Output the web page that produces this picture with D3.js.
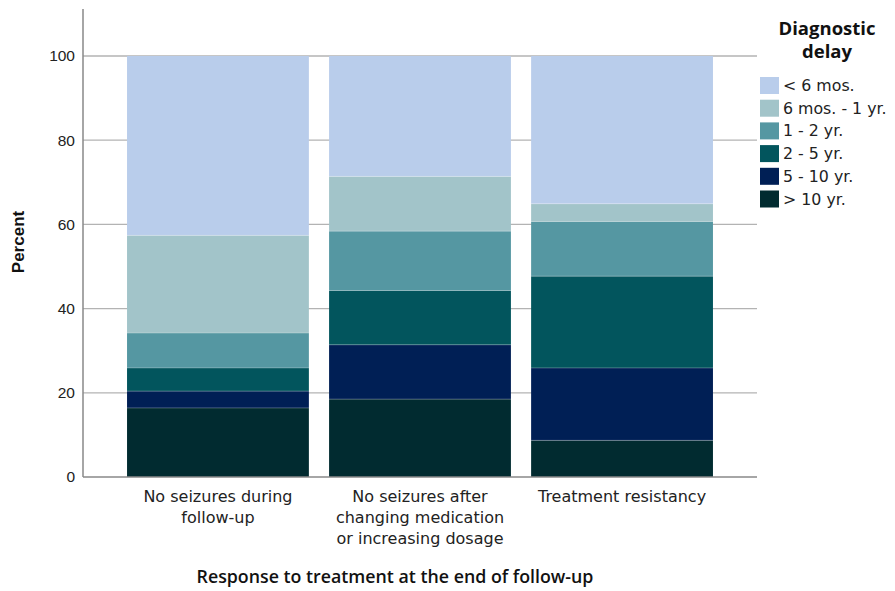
<!DOCTYPE html>
<html><head><meta charset="utf-8">
<script src="https://cdn.jsdelivr.net/npm/d3@7"></script>
<style>body{margin:0;background:#fff}svg{display:block}</style>
</head><body>
<svg id="c" width="895" height="591"></svg>
<script>
const categories = [
  ["No seizures during", "follow-up"],
  ["No seizures after", "changing medication", "or increasing dosage"],
  ["Treatment resistancy"]
];
const seriesNames = ["> 10 yr.", "5 - 10 yr.", "2 - 5 yr.", "1 - 2 yr.", "6 mos. - 1 yr.", "< 6 mos."];
const gt10  = [16.4, 18.5, 8.7];
const y5to10 = [4.0, 12.9, 17.2];
const y2to5 = [5.5, 12.9, 21.8];
const y1to2 = [8.3, 14.1, 13.0];
const m6to1 = [23.2, 13.0, 4.2];
const lt6   = [42.6, 28.6, 35.1];
const yTicks = [0, 20, 40, 60, 80, 100];
const colors = ["#012b30", "#001f55", "#02555d", "#5597a2", "#a2c4c9", "#b9cdeb"];
const legendOrder = ["< 6 mos.", "6 mos. - 1 yr.", "1 - 2 yr.", "2 - 5 yr.", "5 - 10 yr.", "> 10 yr."];

const seriesVals = [gt10, y5to10, y2to5, y1to2, m6to1, lt6];
const rows = categories.map((c, i) => {
  const r = {key: i};
  seriesNames.forEach((s, j) => r[s] = seriesVals[j][i]);
  return r;
});
const stacked = d3.stack().keys(seriesNames)(rows);

const svg = d3.select("#c");
const pLeft = 83, pRight = 757, pTop = 9, pBottom = 477;
const x = d3.scaleBand().domain(d3.range(categories.length)).range([pLeft, pRight]).paddingInner(0.1).paddingOuter(0.218);
const y = d3.scaleLinear().domain([0, 100]).range([pBottom, 477 - 421]);
const color = d3.scaleOrdinal().domain(seriesNames).range(colors);
const FONT = "'Open Sans', sans-serif";
const WIDE = "'DejaVu Sans', sans-serif";

// gridlines
svg.append("g").selectAll("line").data(yTicks.filter(t => t > 0)).join("line")
  .attr("x1", pLeft).attr("x2", pRight).attr("y1", d => y(d)).attr("y2", d => y(d))
  .attr("stroke", "#b3b3b3").attr("stroke-width", 1.3);

// bars
svg.append("g").selectAll("g").data(stacked).join("g")
  .attr("fill", d => color(d.key))
  .selectAll("rect").data(d => d).join("rect")
  .attr("x", (d, i) => x(i)).attr("width", x.bandwidth())
  .attr("y", d => y(d[1])).attr("height", d => y(d[0]) - y(d[1]));

// separators between segments
svg.append("g").selectAll("g").data(stacked.slice(0, -1)).join("g")
  .selectAll("line").data(d => d).join("line")
  .attr("x1", (d, i) => x(i)).attr("x2", (d, i) => x(i) + x.bandwidth())
  .attr("y1", d => y(d[1])).attr("y2", d => y(d[1]))
  .attr("stroke", "#ffffff").attr("stroke-opacity", 0.25).attr("stroke-width", 1);

// y axis
const yAxis = svg.append("g").attr("transform", `translate(${pLeft},0)`)
  .call(d3.axisLeft(y).tickValues(yTicks).tickSize(0).tickPadding(8));
yAxis.select(".domain").remove();
yAxis.selectAll("text").attr("font-family", "Liberation Sans, Arial, sans-serif").attr("font-size", 15.5).attr("fill", "#222");
svg.append("line").attr("x1", pLeft).attr("x2", pLeft).attr("y1", pTop).attr("y2", pBottom)
  .attr("stroke", "#888").attr("stroke-width", 1.5);
svg.append("line").attr("x1", pLeft).attr("x2", pRight).attr("y1", pBottom).attr("y2", pBottom)
  .attr("stroke", "#888").attr("stroke-width", 1.5);

// x labels (one text per line)
const xAxis = svg.append("g").attr("transform", `translate(0,${pBottom})`)
  .call(d3.axisBottom(x).tickSize(0).tickFormat(""));
xAxis.select(".domain").remove();
const labG = svg.append("g").selectAll("g").data(categories).join("g")
  .attr("transform", (d, i) => `translate(${x(i) + x.bandwidth() / 2},0)`);
labG.selectAll("text").data(d => d).join("text")
  .attr("x", 0).attr("y", (d, i) => 502 + i * 21)
  .attr("text-anchor", "middle").attr("font-family", WIDE).attr("font-size", 16).attr("fill", "#222")
  .text(d => d);

// axis titles
svg.append("text").attr("x", 395).attr("y", 583).attr("text-anchor", "middle")
  .attr("font-family", FONT).attr("font-weight", 600).attr("font-size", 17.8).attr("fill", "#111")
  .text("Response to treatment at the end of follow-up");
svg.append("text").attr("transform", "translate(24,242) rotate(-90)").attr("text-anchor", "middle")
  .attr("font-family", "Liberation Sans, Arial, sans-serif").attr("font-weight", "bold").attr("font-size", 17).attr("fill", "#111")
  .text("Percent");

// legend
const lg = svg.append("g");
lg.selectAll("text.t").data(["Diagnostic", "delay"]).join("text").attr("class", "t")
  .attr("x", 827).attr("y", (d, i) => 35 + i * 23).attr("text-anchor", "middle")
  .attr("font-family", FONT).attr("font-weight", "bold").attr("font-size", 18.5).attr("fill", "#111")
  .text(d => d);
const items = lg.selectAll("g.it").data(legendOrder).join("g").attr("class", "it")
  .attr("transform", (d, i) => `translate(760,${77 + i * 22.7})`);
items.append("rect").attr("width", 19).attr("height", 17).attr("fill", d => color(d));
items.append("text").attr("x", 23).attr("y", 14).attr("font-family", WIDE).attr("font-size", 15.8).attr("fill", "#222").text(d => d);
</script>
</body></html>
